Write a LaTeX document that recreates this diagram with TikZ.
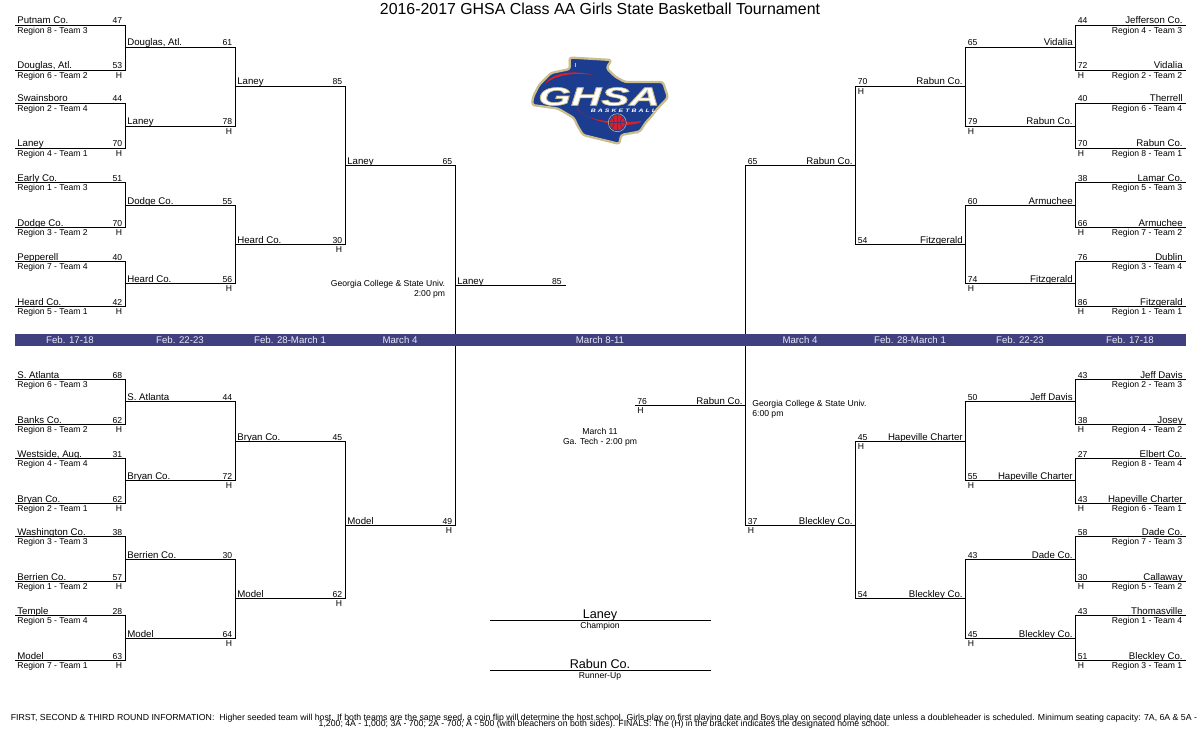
\documentclass[tikz,border=0pt]{standalone}
\usepackage{fontspec}
\usepackage{xcolor}
\usepackage{etoolbox}
\usetikzlibrary{calc}
\setmainfont{Liberation Sans}

\definecolor{bandblue}{HTML}{404080}
\definecolor{logonavy}{HTML}{1B3C8F}
\definecolor{logogold}{HTML}{CBBD8C}
\definecolor{logored}{HTML}{D5202E}

\tikzset{
	bracket/.style = {line width = 0.569pt, line cap = rect},
	teamname/.style = {inner sep = 0pt, font = \fontsize{5.5}{6}\selectfont},
	smalltext/.style = {inner sep = 0pt, font = \fontsize{4.9}{5.6}\selectfont},
	bandtext/.style = {inner sep = 0pt, text = white!88!bandblue, font = \fontsize{5.5}{6}\selectfont},
	finalname/.style = {inner sep = 0pt, font = \fontsize{7.2}{8}\selectfont},
	footnote/.style = {inner sep = 0pt, anchor = base, font = \fontsize{4.97}{5.6}\selectfont},
}

% id, x start, x end, y, team, score, home, [region]
\newcommand{\gameL}[8][]{
	\coordinate (#2 start) at (#3,#5);
	\coordinate (#2 end) at (#4,#5);
	\draw [bracket] (#2 start) -- (#2 end);
	\node [teamname, anchor = base west] (#2 team) at ($(#2 start)+(1.5,-1.5)$) {#6};
	\node [smalltext, anchor = base east] (#2 score) at ($(#2 end)+(-3,-1.5)$) {#7};
	\ifstrempty{#8}{}{\node [smalltext, anchor = base east] (#2 home) at ($(#2 end)+(-3,8)$) {#8};}
	\ifstrempty{#1}{}{\node [smalltext, anchor = base west] (#2 region) at ($(#2 start)+(1.5,8)$) {#1};}
}
\newcommand{\gameR}[8][]{
	\coordinate (#2 start) at (#3,#5);
	\coordinate (#2 end) at (#4,#5);
	\draw [bracket] (#2 start) -- (#2 end);
	\node [teamname, anchor = base east] (#2 team) at ($(#2 start)+(-2.5,-1.5)$) {#6};
	\node [smalltext, anchor = base west] (#2 score) at ($(#2 end)+(2,-1.5)$) {#7};
	\ifstrempty{#8}{}{\node [smalltext, anchor = base west] (#2 home) at ($(#2 end)+(2,8)$) {#8};}
	\ifstrempty{#1}{}{\node [smalltext, anchor = base east] (#2 region) at ($(#2 start)+(-3,8)$) {#1};}
}

\begin{document}
\begin{tikzpicture}[x = 0.02cm, y = -0.02cm]
	\useasboundingbox (0,0) rectangle (1200,750);
	
	\def\xa{15.5};
	\def\xb{125.5};
	\def\xc{235.5};
	\def\xd{345.5};
	\def\xe{455.5};
	\def\xf{565};
	\def\ra{1185.5};
	\def\rb{1075.5};
	\def\rc{965.5};
	\def\rd{855.5};
	\def\re{745.5};
	\def\rf{635};
	
	\node [inner sep = 0pt, anchor = base, font = \fontsize{9.05}{11}\selectfont] (title) at (600,15) {2016-2017 GHSA Class AA Girls State Basketball Tournament};
	
	%left, first round
	\gameL[Region 8 - Team 3]{LA1}{\xa}{\xb}{25.5}{Putnam Co.}{47}{}
	\gameL[Region 6 - Team 2]{LA2}{\xa}{\xb}{70.5}{Douglas, Atl.}{53}{H}
	\gameL[Region 2 - Team 4]{LA3}{\xa}{\xb}{103.5}{Swainsboro}{44}{}
	\gameL[Region 4 - Team 1]{LA4}{\xa}{\xb}{148.5}{Laney}{70}{H}
	\gameL[Region 1 - Team 3]{LA5}{\xa}{\xb}{182.5}{Early Co.}{51}{}
	\gameL[Region 3 - Team 2]{LA6}{\xa}{\xb}{227.5}{Dodge Co.}{70}{H}
	\gameL[Region 7 - Team 4]{LA7}{\xa}{\xb}{261.5}{Pepperell}{40}{}
	\gameL[Region 5 - Team 1]{LA8}{\xa}{\xb}{306.5}{Heard Co.}{42}{H}
	\gameL[Region 6 - Team 3]{LA9}{\xa}{\xb}{379.5}{S. Atlanta}{68}{}
	\gameL[Region 8 - Team 2]{LA10}{\xa}{\xb}{424.5}{Banks Co.}{62}{H}
	\gameL[Region 4 - Team 4]{LA11}{\xa}{\xb}{458.5}{Westside, Aug.}{31}{}
	\gameL[Region 2 - Team 1]{LA12}{\xa}{\xb}{503.5}{Bryan Co.}{62}{H}
	\gameL[Region 3 - Team 3]{LA13}{\xa}{\xb}{536.5}{Washington Co.}{38}{}
	\gameL[Region 1 - Team 2]{LA14}{\xa}{\xb}{581.5}{Berrien Co.}{57}{H}
	\gameL[Region 5 - Team 4]{LA15}{\xa}{\xb}{615.5}{Temple}{28}{}
	\gameL[Region 7 - Team 1]{LA16}{\xa}{\xb}{660.5}{Model}{63}{H}
	
	%left, later rounds
	\gameL{LB1}{\xb}{\xc}{47.5}{Douglas, Atl.}{61}{}
	\gameL{LB2}{\xb}{\xc}{126.5}{Laney}{78}{H}
	\gameL{LB3}{\xb}{\xc}{205.5}{Dodge Co.}{55}{}
	\gameL{LB4}{\xb}{\xc}{283.5}{Heard Co.}{56}{H}
	\gameL{LB5}{\xb}{\xc}{401.5}{S. Atlanta}{44}{}
	\gameL{LB6}{\xb}{\xc}{480.5}{Bryan Co.}{72}{H}
	\gameL{LB7}{\xb}{\xc}{559.5}{Berrien Co.}{30}{}
	\gameL{LB8}{\xb}{\xc}{638.5}{Model}{64}{H}
	\gameL{LC1}{\xc}{\xd}{86.5}{Laney}{85}{}
	\gameL{LC2}{\xc}{\xd}{244.5}{Heard Co.}{30}{H}
	\gameL{LC3}{\xc}{\xd}{441.5}{Bryan Co.}{45}{}
	\gameL{LC4}{\xc}{\xd}{598.5}{Model}{62}{H}
	\gameL{LD1}{\xd}{\xe}{165.5}{Laney}{65}{}
	\gameL{LD2}{\xd}{\xe}{525.5}{Model}{49}{H}
	\gameL{LE1}{\xe}{\xf}{285.5}{Laney}{85}{}
	
	%right, first round
	\gameR[Region 4 - Team 3]{RA1}{\ra}{\rb}{25.5}{Jefferson Co.}{44}{}
	\gameR[Region 2 - Team 2]{RA2}{\ra}{\rb}{70.5}{Vidalia}{72}{H}
	\gameR[Region 6 - Team 4]{RA3}{\ra}{\rb}{103.5}{Therrell}{40}{}
	\gameR[Region 8 - Team 1]{RA4}{\ra}{\rb}{148.5}{Rabun Co.}{70}{H}
	\gameR[Region 5 - Team 3]{RA5}{\ra}{\rb}{182.5}{Lamar Co.}{38}{}
	\gameR[Region 7 - Team 2]{RA6}{\ra}{\rb}{227.5}{Armuchee}{66}{H}
	\gameR[Region 3 - Team 4]{RA7}{\ra}{\rb}{261.5}{Dublin}{76}{}
	\gameR[Region 1 - Team 1]{RA8}{\ra}{\rb}{306.5}{Fitzgerald}{86}{H}
	\gameR[Region 2 - Team 3]{RA9}{\ra}{\rb}{379.5}{Jeff Davis}{43}{}
	\gameR[Region 4 - Team 2]{RA10}{\ra}{\rb}{424.5}{Josey}{38}{H}
	\gameR[Region 8 - Team 4]{RA11}{\ra}{\rb}{458.5}{Elbert Co.}{27}{}
	\gameR[Region 6 - Team 1]{RA12}{\ra}{\rb}{503.5}{Hapeville Charter}{43}{H}
	\gameR[Region 7 - Team 3]{RA13}{\ra}{\rb}{536.5}{Dade Co.}{58}{}
	\gameR[Region 5 - Team 2]{RA14}{\ra}{\rb}{581.5}{Callaway}{30}{H}
	\gameR[Region 1 - Team 4]{RA15}{\ra}{\rb}{615.5}{Thomasville}{43}{}
	\gameR[Region 3 - Team 1]{RA16}{\ra}{\rb}{660.5}{Bleckley Co.}{51}{H}
	
	%right, later rounds
	\gameR{RB1}{\rb}{\rc}{47.5}{Vidalia}{65}{}
	\gameR{RB2}{\rb}{\rc}{126.5}{Rabun Co.}{79}{H}
	\gameR{RB3}{\rb}{\rc}{205.5}{Armuchee}{60}{}
	\gameR{RB4}{\rb}{\rc}{283.5}{Fitzgerald}{74}{H}
	\gameR{RB5}{\rb}{\rc}{401.5}{Jeff Davis}{50}{}
	\gameR{RB6}{\rb}{\rc}{480.5}{Hapeville Charter}{55}{H}
	\gameR{RB7}{\rb}{\rc}{559.5}{Dade Co.}{43}{}
	\gameR{RB8}{\rb}{\rc}{638.5}{Bleckley Co.}{45}{H}
	\gameR{RC1}{\rc}{\rd}{86.5}{Rabun Co.}{70}{H}
	\gameR{RC2}{\rc}{\rd}{244.5}{Fitzgerald}{54}{}
	\gameR{RC3}{\rc}{\rd}{441.5}{Hapeville Charter}{45}{H}
	\gameR{RC4}{\rc}{\rd}{598.5}{Bleckley Co.}{54}{}
	\gameR{RD1}{\rd}{\re}{165.5}{Rabun Co.}{65}{}
	\gameR{RD2}{\rd}{\re}{525.5}{Bleckley Co.}{37}{H}
	\gameR{RE1}{\re}{\rf}{405.5}{Rabun Co.}{76}{H}
	
	%joins
	\foreach \s in {L,R} {
		\foreach \i [evaluate = \i as \j using int(\i+1)] in {1,3,...,15} {
			\draw [bracket] (\s A\i\space end) -- (\s A\j\space end);
		}
		\foreach \i [evaluate = \i as \j using int(\i+1)] in {1,3,5,7} {
			\draw [bracket] (\s B\i\space end) -- (\s B\j\space end);
		}
		\foreach \i [evaluate = \i as \j using int(\i+1)] in {1,3} {
			\draw [bracket] (\s C\i\space end) -- (\s C\j\space end);
		}
		\draw [bracket] (\s D1 end) -- (\s D2 end);
	}
	
	%dates
	\fill [bandblue] (15,334) rectangle (1186,346);
	\foreach \x/\d [count = \n] in {70/Feb. 17-18, 180/Feb. 22-23, 290/Feb. 28-March 1, 400/March 4, 600/March 8-11, 800/March 4, 910/Feb. 28-March 1, 1020/Feb. 22-23, 1130/Feb. 17-18} {
		\node [bandtext, anchor = base] (date\n) at (\x,343) {\d};
	}
	
	%sites
	\node [smalltext, anchor = base east, align = right] (site left) at (445.5,296) {Georgia College \& State Univ.\\2:00 pm};
	\node [smalltext, anchor = base west, align = left] (site right) at (752,416) {Georgia College \& State Univ.\\6:00 pm};
	\node [smalltext, anchor = base, align = center] (site final) at (600,444) {March 11\\Ga. Tech - 2:00 pm};
	
	%champion, runner-up
	\coordinate (champ left) at (490,620.5);
	\coordinate (champ right) at (710.5,620.5);
	\coordinate (runner left) at (490,670.5);
	\coordinate (runner right) at (710.5,670.5);
	\draw [bracket] (champ left) -- (champ right);
	\draw [bracket] (runner left) -- (runner right);
	\node [finalname, anchor = base] (champ name) at (600,618) {Laney};
	\node [smalltext, anchor = base] (champ label) at (600,628) {Champion};
	\node [finalname, anchor = base] (runner name) at (600,668) {Rabun Co.};
	\node [smalltext, anchor = base] (runner label) at (600,678) {Runner-Up};
	
	%footnote
	\node [footnote] (note first) at (604,720) {FIRST, SECOND \& THIRD ROUND INFORMATION:\ \ Higher seeded team will host. If both teams are the same seed, a coin flip will determine the host school. Girls play on first playing date and Boys play on second playing date unless a doubleheader is scheduled. Minimum seating capacity: 7A, 6A \& 5A -};
	\node [footnote] (note second) at (604,726.5) {1,200; 4A - 1,000; 3A - 700; 2A - 700; A - 500 (with bleachers on both sides). FINALS: The (H) in the bracket indicates the designated home school.};
	
	%logo
	\filldraw [logonavy, draw = logogold, line width = 1.3pt, line join = round, rounded corners = 1.5pt]
		(569.5,57.5) -- (611.5,60) -- (606.5,68) -- (615,76.5) -- (625,82) -- (663,82) -- (668,97.5) -- (657,109) -- (651,117) -- (646,122) -- (640,131.5) -- (621,135) -- (619.5,144) -- (583,135) -- (577,125) -- (574,118) -- (558,108.5) -- (532,105) -- (533,97) -- (539,85) -- (551,73) -- (570,69) -- cycle;
	\fill [logored] (545,84) .. controls (552,72) and (575,70) .. (593,75) .. controls (575,72) and (555,75) .. (545,84) -- cycle;
	\fill [logored] (576,107) .. controls (583,120) and (610,124) .. (642,121) .. controls (640,124) and (630,125) .. (622,125) .. controls (605,124) and (583,118) .. (576,107) -- cycle;
	\draw [logogold, line width = 0.5pt] (575,63) -- (575,67);
	\node [inner sep = 0pt, xscale = 1.65, transform shape, text = white, font = \fontsize{14.5}{16}\bfseries\itshape\selectfont] (logo ghsa) at (599,96.5) {\special{pdf:code 2 Tr 0.35 w 0.79 0.74 0.55 RG}GHSA\special{pdf:code 0 Tr}};
	\filldraw [logored, draw = logonavy, line width = 0.6pt] (617.3,122.7) circle [radius = 8.3];
	\draw [logogold, line width = 0.3pt] (617.3,122.7) circle [radius = 9];
	\draw [logonavy, line width = 0.3pt] (609,122.7) -- (625.6,122.7) (617.3,114.4) -- (617.3,131) (611.5,116.5) .. controls (615,120) and (615,125) .. (611.5,129) (623,116.5) .. controls (619.5,120) and (619.5,125) .. (623,129);
	\node [inner sep = 0pt, xscale = 1.4, transform shape, text = white, font = \fontsize{2.8}{3}\bfseries\itshape\selectfont] (logo sport) at (623.5,111) {\addfontfeature{LetterSpace=30}BASKETBALL};
	\node [inner sep = 0pt, text = logogold, font = \fontsize{1.6}{2}\selectfont] (logo tm) at (637,133.5) {TM};
\end{tikzpicture}
\end{document}
